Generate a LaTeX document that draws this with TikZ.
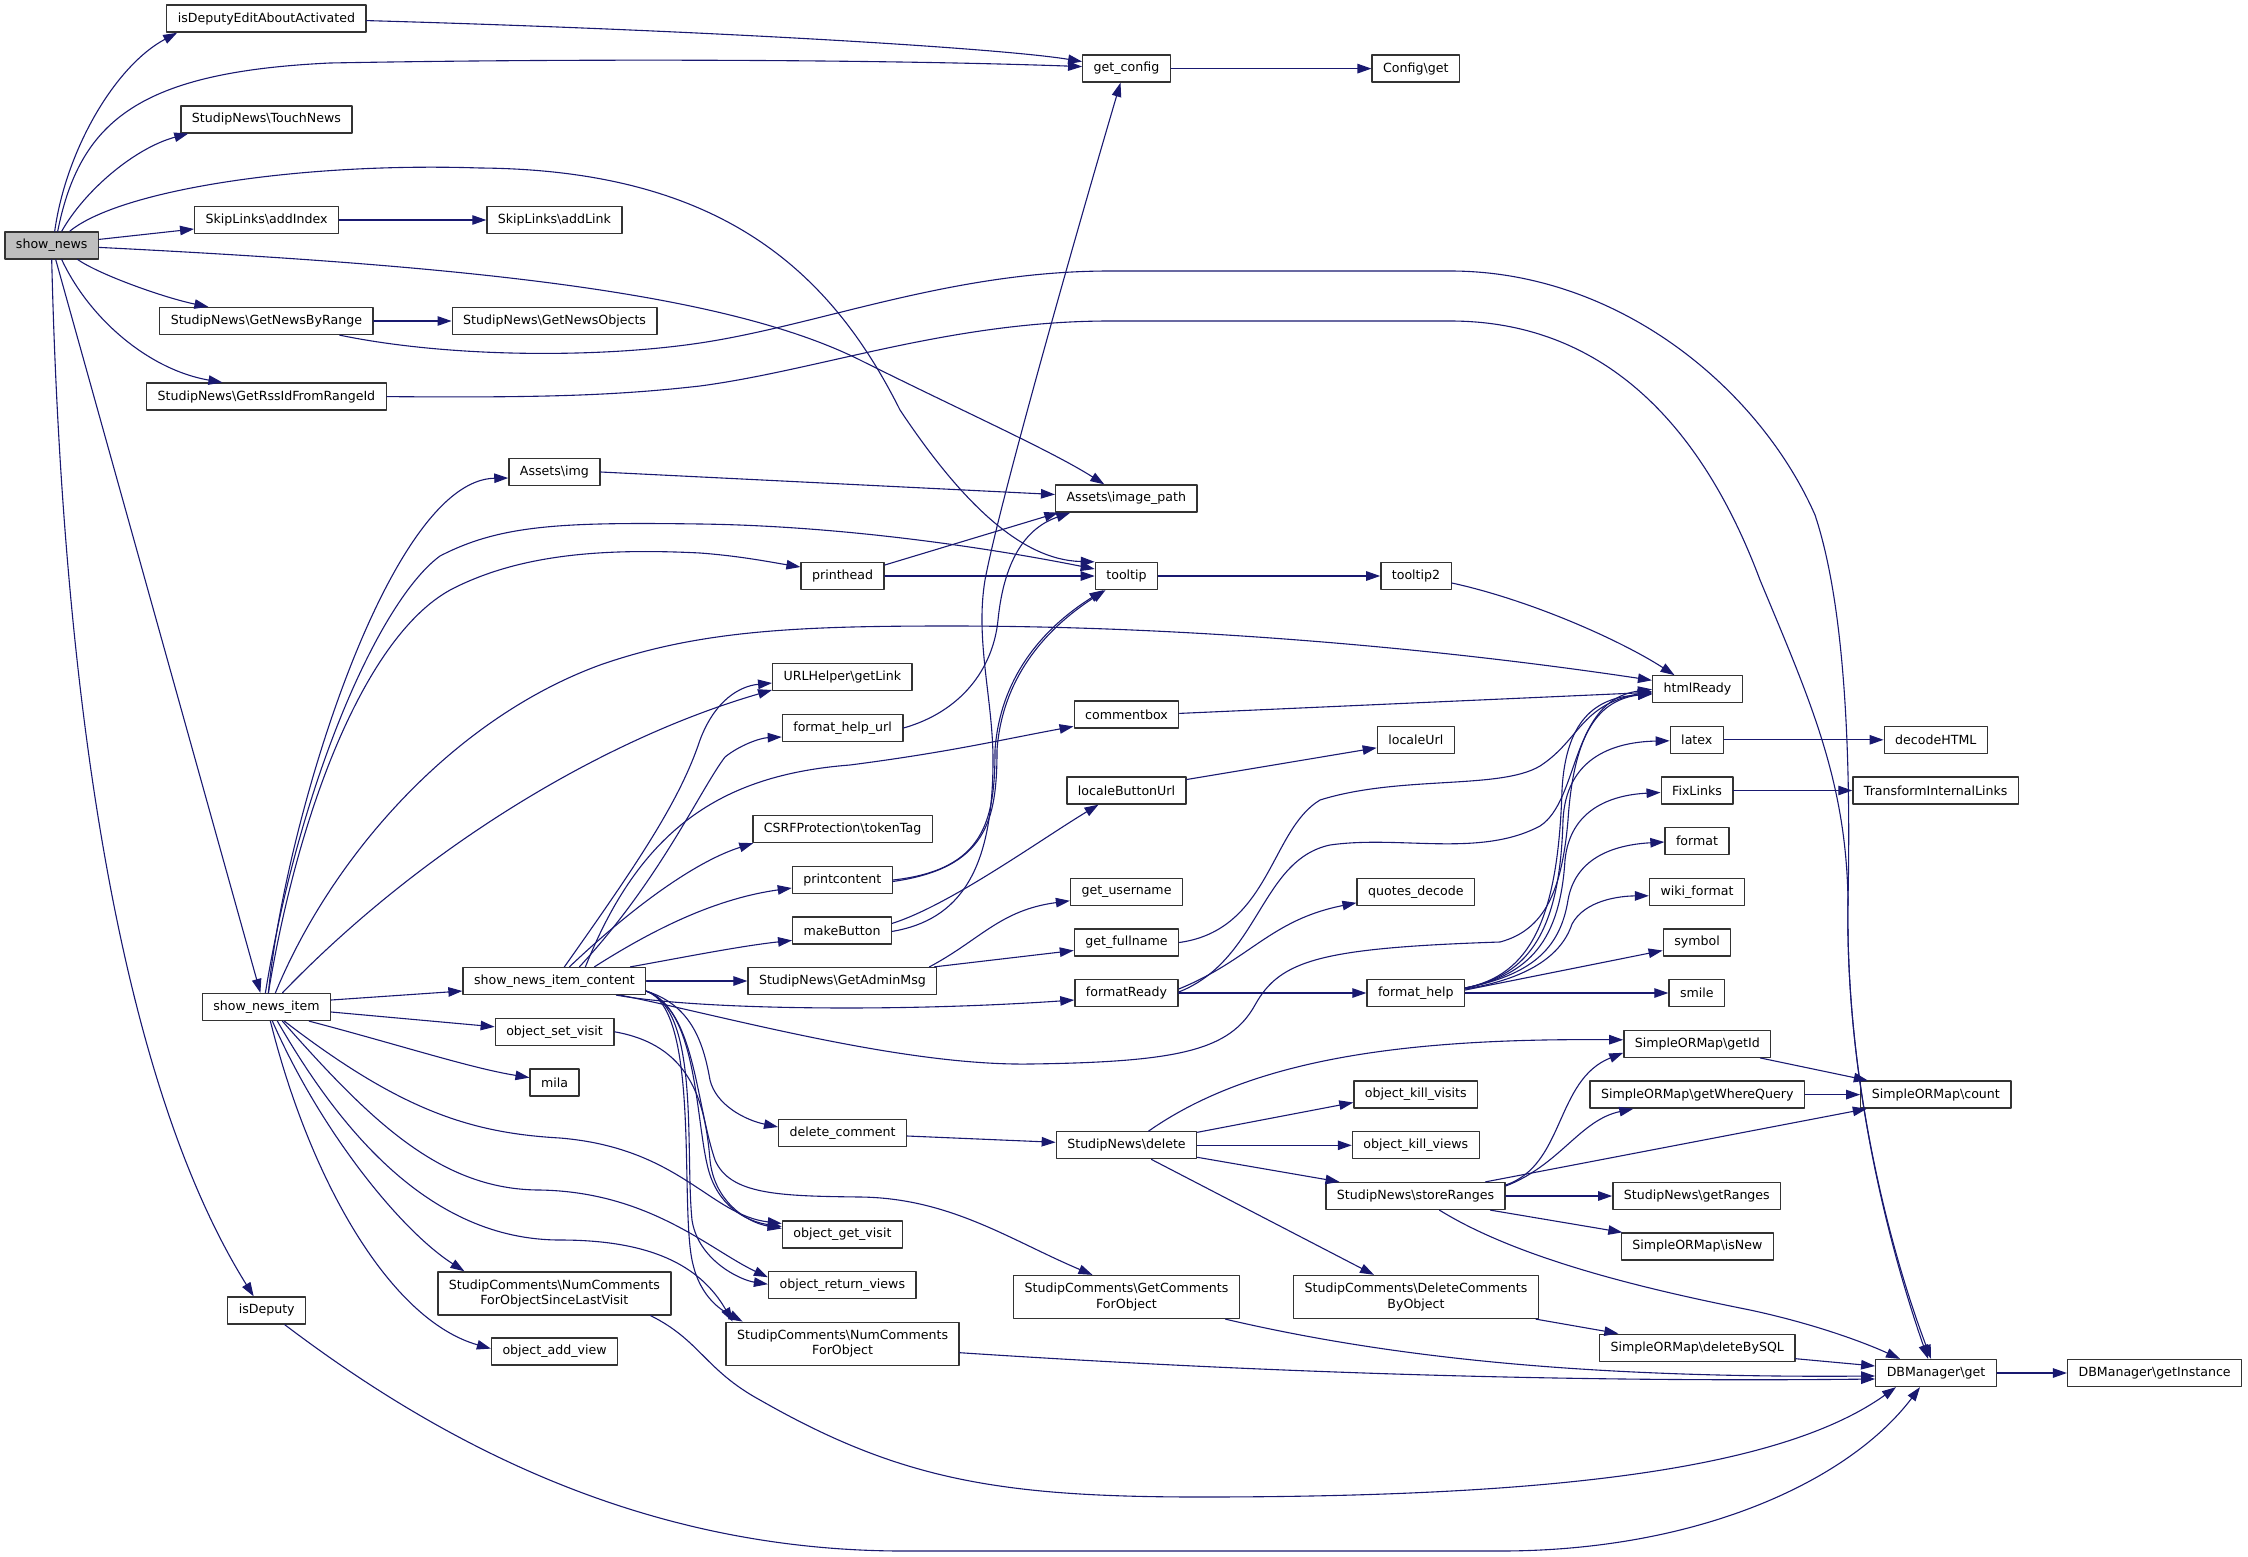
\documentclass[tikz,border=0pt]{standalone}
\usepackage{fontspec}
\setmainfont{DejaVu Sans}
\usetikzlibrary{arrows.meta}
\definecolor{callblue}{HTML}{191970}
\definecolor{rootgray}{HTML}{BFBFBF}
\newcommand{\bs}{\textbackslash}

\begin{document}
\begin{tikzpicture}[x=1pt, y=-1pt, line cap=round, line join=round,
  >={Triangle[length=14pt,width=9.5pt]},
  fn/.style={draw=black!80, line width=1.3pt, fill=white, inner xsep=11pt, inner ysep=0pt,
    minimum height=27pt, align=center, font=\fontsize{12.6}{15.6}\selectfont},
  fntwo/.style={fn, minimum height=43pt},
  call/.style={->, draw=callblue, line width=1.1pt}]
  \useasboundingbox (0,0) rectangle (2248,1557);

  \node[fn, fill=rootgray] (shownews) at (51.7,245.4) {show\_news};
  \node[fn] (isdeputyedit) at (266.4,18.6) {isDeputyEditAboutActivated};
  \node[fn] (touchnews) at (266.4,119.4) {StudipNews\bs TouchNews};
  \node[fn] (addindex) at (266.6,220) {SkipLinks\bs addIndex};
  \node[fn] (addlink) at (554.4,220) {SkipLinks\bs addLink};
  \node[fn] (newsbyrange) at (266.4,321) {StudipNews\bs GetNewsByRange};
  \node[fn] (newsobjects) at (554.6,321) {StudipNews\bs GetNewsObjects};
  \node[fn] (rssid) at (266.4,396.6) {StudipNews\bs GetRssIdFromRangeId};
  \node[fn] (assetsimg) at (554.4,472) {Assets\bs img};
  \node[fn] (getconfig) at (1126.5,68.6) {get\_config};
  \node[fn] (configget) at (1415.8,68.6) {Config\bs get};
  \node[fn] (imagepath) at (1126.3,498.5) {Assets\bs image\_path};
  \node[fn] (printhead) at (842.6,576) {printhead};
  \node[fn] (tooltip) at (1126.5,576) {tooltip};
  \node[fn] (tooltiptwo) at (1416,576) {tooltip2};
  \node[fn] (getlink) at (842.4,677) {URLHelper\bs getLink};
  \node[fn] (helpurl) at (842.6,728) {format\_help\_url};
  \node[fn] (commentbox) at (1126.5,714.4) {commentbox};
  \node[fn] (localeurl) at (1415.8,739.8) {localeUrl};
  \node[fn] (buttonurl) at (1126.5,790.5) {localeButtonUrl};
  \node[fn] (tokentag) at (842.6,829) {CSRFProtection\bs tokenTag};
  \node[fn] (printcontent) at (842.3,880) {printcontent};
  \node[fn] (username) at (1126.5,891.8) {get\_username};
  \node[fn] (quotes) at (1415.8,891.8) {quotes\_decode};
  \node[fn] (makebutton) at (842.1,930.4) {makeButton};
  \node[fn] (fullname) at (1126.5,942.5) {get\_fullname};
  \node[fn] (adminmsg) at (842.4,981) {StudipNews\bs GetAdminMsg};
  \node[fn] (formatready) at (1126.5,993) {formatReady};
  \node[fn] (formathelp) at (1415.8,993) {format\_help};
  \node[fn] (htmlready) at (1697.5,689.3) {htmlReady};
  \node[fn] (latex) at (1696.8,739.8) {latex};
  \node[fn] (decodehtml) at (1935.8,739.8) {decodeHTML};
  \node[fn] (fixlinks) at (1697,790.5) {FixLinks};
  \node[fn] (transform) at (1935.7,790.5) {TransformInternalLinks};
  \node[fn] (format) at (1697,841) {format};
  \node[fn] (wikiformat) at (1697,891.8) {wiki\_format};
  \node[fn] (symbol) at (1697,942.5) {symbol};
  \node[fn] (smile) at (1696.8,993) {smile};
  \node[fn] (newsitem) at (266.4,1007) {show\_news\_item};
  \node[fn] (itemcontent) at (554.4,981) {show\_news\_item\_content};
  \node[fn] (setvisit) at (554.6,1031.8) {object\_set\_visit};
  \node[fn] (mila) at (554.6,1082.6) {mila};
  \node[fntwo] (sincelast) at (554.4,1293.4) {StudipComments\bs NumComments\\ForObjectSinceLastVisit};
  \node[fn] (isdeputy) at (266.7,1310.5) {isDeputy};
  \node[fn] (addview) at (554.6,1351.6) {object\_add\_view};
  \node[fn] (deletecomment) at (842.6,1133) {delete\_comment};
  \node[fn] (newsdelete) at (1126.5,1145.3) {StudipNews\bs delete};
  \node[fn] (killvisits) at (1415.8,1094.5) {object\_kill\_visits};
  \node[fn] (killviews) at (1415.8,1145.3) {object\_kill\_views};
  \node[fn] (storeranges) at (1415.5,1196) {StudipNews\bs storeRanges};
  \node[fn] (getvisit) at (842.4,1234.5) {object\_get\_visit};
  \node[fn] (returnviews) at (842.3,1285.2) {object\_return\_views};
  \node[fntwo] (getcomments) at (1126.5,1297) {StudipComments\bs GetComments\\ForObject};
  \node[fntwo] (deletecomments) at (1416,1297) {StudipComments\bs DeleteComments\\ByObject};
  \node[fntwo] (numcomments) at (842.6,1343.7) {StudipComments\bs NumComments\\ForObject};
  \node[fn] (getid) at (1697.3,1043.8) {SimpleORMap\bs getId};
  \node[fn] (wherequery) at (1697.3,1094.6) {SimpleORMap\bs getWhereQuery};
  \node[fn] (count) at (1935.8,1094.6) {SimpleORMap\bs count};
  \node[fn] (getranges) at (1696.8,1196) {StudipNews\bs getRanges};
  \node[fn] (isnew) at (1697.3,1246.5) {SimpleORMap\bs isNew};
  \node[fn] (deletebysql) at (1697.3,1347.7) {SimpleORMap\bs deleteBySQL};
  \node[fn] (dbget) at (1936,1373) {DBManager\bs get};
  \node[fn] (getinstance) at (2154.6,1373) {DBManager\bs getInstance};

  \draw[call] ([xshift=3pt]shownews.north) .. controls (66,150) and (115,66) .. ([xshift=11pt]isdeputyedit.south west);
  \draw[call] ([xshift=6pt]shownews.north) .. controls (80,120) and (140,72) .. (330,63) .. controls (600,58) and (900,60) .. ([yshift=2pt]getconfig.west);
  \draw[call] ([xshift=10pt]shownews.north) .. controls (85,190) and (135,148) .. ([xshift=8pt]touchnews.south west);
  \draw[call] ([xshift=18pt]shownews.north) .. controls (120,190) and (300,162) .. (480,168) .. controls (720,170) and (830,270) .. (900,410) .. controls (960,500) and (1020,560) .. (tooltip.north west);
  \draw[call] ([yshift=6pt]shownews.east) -- ([yshift=-9pt]addindex.west);
  \draw[call] ([yshift=-2pt]shownews.east) .. controls (450,265) and (720,290) .. (860,360) .. controls (960,410) and (1050,450) .. ([xshift=-22pt]imagepath.north);
  \draw[call] ([xshift=26pt]shownews.south) .. controls (100,275) and (165,298) .. ([xshift=-58pt]newsbyrange.north);
  \draw[call] ([xshift=10pt]shownews.south) .. controls (90,320) and (150,370) .. ([xshift=-44pt]rssid.north);
  \draw[call] ([xshift=4pt]shownews.south) -- ([xshift=-6pt]newsitem.north);
  \draw[call] (shownews.south) .. controls (60,600) and (100,1050) .. ([xshift=-13pt]isdeputy.north);
  \draw[call] ([yshift=-2pt]isdeputyedit.east) .. controls (700,30) and (1000,48) .. ([yshift=7pt]getconfig.west);
  \draw[call] (addindex) -- (addlink);
  \draw[call] (newsbyrange) -- (newsobjects);
  \draw[call] ([xshift=-34pt]newsbyrange.south east) .. controls (450,358) and (600,358) .. (700,343) .. controls (820,325) and (950,271) .. (1110,271) -- (1450,271) .. controls (1620,271) and (1760,390) .. (1815,515) .. controls (1850,620) and (1850,800) .. (1848,900) .. controls (1845,1080) and (1890,1250) .. ([xshift=-8pt]dbget.north);
  \draw[call] (rssid.east) .. controls (550,398) and (620,395) .. (700,386) .. controls (820,370) and (950,321) .. (1110,321) -- (1450,321) .. controls (1600,321) and (1700,420) .. (1760,580) .. controls (1810,700) and (1846,780) .. (1848,900) .. controls (1845,1080) and (1890,1250) .. ([xshift=-5pt]dbget.north);
  \draw[call] (getconfig) -- (configget);
  \draw[call] (assetsimg.east) -- ([yshift=4pt]imagepath.west);

  \draw[call] ([xshift=2pt]newsitem.north) .. controls (285,820) and (390,480) .. ([yshift=-6pt]assetsimg.west);
  \draw[call] ([xshift=-1pt]newsitem.north) .. controls (300,780) and (380,600) .. (440,556) .. controls (500,525) and (560,522) .. (700,524) .. controls (850,526) and (1000,550) .. ([yshift=7pt]tooltip.west);
  \draw[call] ([xshift=2pt]newsitem.north) .. controls (300,800) and (370,630) .. (454,588) .. controls (520,555) and (600,548) .. (700,553) .. controls (740,556) and (770,562) .. ([yshift=9pt]printhead.west);
  \draw[call] ([xshift=9pt]newsitem.north) .. controls (330,860) and (450,720) .. (600,665) .. controls (700,630) and (800,626) .. (950,626) .. controls (1200,626) and (1450,650) .. ([yshift=9pt]htmlready.west);
  \draw[call] ([xshift=16pt]newsitem.north) .. controls (420,850) and (600,740) .. ([yshift=-13pt]getlink.west);
  \draw[call] ([yshift=7pt]newsitem.east) -- ([yshift=-10pt]itemcontent.west);
  \draw[call] ([yshift=-5pt]newsitem.east) -- ([yshift=5pt]setvisit.west);
  \draw[call] ([xshift=-22pt]newsitem.south east) .. controls (400,1045) and (470,1068) .. ([yshift=5pt]mila.west);
  \draw[call] ([xshift=18pt]newsitem.south) .. controls (400,1110) and (470,1133) .. (560,1138) .. controls (680,1148) and (710,1215) .. ([yshift=11pt]getvisit.west);
  \draw[call] ([xshift=16pt]newsitem.south) .. controls (370,1120) and (440,1190) .. (540,1190) .. controls (650,1192) and (710,1250) .. ([yshift=8pt]returnviews.west);
  \draw[call] ([xshift=11pt]newsitem.south) .. controls (340,1130) and (430,1240) .. (560,1240) .. controls (650,1240) and (700,1265) .. ([xshift=-110pt]numcomments.north);
  \draw[call] ([xshift=6pt]newsitem.south) .. controls (320,1130) and (400,1230) .. ([xshift=-90pt]sincelast.north);
  \draw[call] ([xshift=4pt]newsitem.south) .. controls (310,1180) and (390,1320) .. ([yshift=3pt]addview.west);

  \draw[call] (itemcontent) -- (adminmsg);
  \draw[call] ([xshift=10pt]itemcontent.north) .. controls (640,860) and (680,800) .. (700,740) .. controls (715,700) and (740,686) .. ([yshift=-6pt]getlink.west);
  \draw[call] ([xshift=25pt]itemcontent.north) .. controls (660,880) and (700,790) .. (725,757) .. controls (740,745) and (760,738) .. ([yshift=-9pt]helpurl.west);
  \draw[call] ([xshift=31pt]itemcontent.north) .. controls (640,830) and (720,775) .. (850,765) .. controls (950,752) and (1000,740) .. ([yshift=-12pt]commentbox.west);
  \draw[call] ([xshift=15pt]itemcontent.north) .. controls (640,900) and (700,860) .. ([xshift=1pt]tokentag.south west);
  \draw[call] ([xshift=40pt]itemcontent.north) .. controls (660,925) and (720,898) .. ([yshift=-8pt]printcontent.west);
  \draw[call] ([xshift=76pt]itemcontent.north) .. controls (680,958) and (740,946) .. ([yshift=-10pt]makebutton.west);
  \draw[call] ([xshift=62pt]itemcontent.south) .. controls (700,1010) and (900,1012) .. ([yshift=-7pt]formatready.west);
  \draw[call] ([xshift=66pt]itemcontent.south) .. controls (720,1015) and (900,1066) .. (1030,1064) .. controls (1180,1062) and (1230,1050) .. (1255,1005) .. controls (1280,960) and (1320,948) .. (1500,942) .. controls (1545,930) and (1562,890) .. (1568,820) .. controls (1574,730) and (1600,700) .. ([yshift=-4pt]htmlready.west);
  \draw[call] ([yshift=4pt]itemcontent.south east) .. controls (690,1005) and (703,1040) .. (710,1080) .. controls (716,1105) and (745,1120) .. ([yshift=6pt]deletecomment.west);
  \draw[call] ([yshift=4pt]itemcontent.south east) .. controls (695,1010) and (695,1100) .. (715,1160) .. controls (730,1195) and (780,1196) .. (860,1197) .. controls (950,1198) and (1010,1240) .. ([xshift=-34pt]getcomments.north);
  \draw[call] ([yshift=4pt]itemcontent.south east) .. controls (700,1010) and (695,1130) .. (710,1175) .. controls (722,1210) and (750,1222) .. ([yshift=8pt]getvisit.west);
  \draw[call] ([yshift=4pt]itemcontent.south east) .. controls (700,1010) and (685,1150) .. (692,1220) .. controls (698,1260) and (740,1280) .. ([yshift=1pt]returnviews.west);
  \draw[call] ([yshift=4pt]itemcontent.south east) .. controls (700,1010) and (680,1200) .. (692,1260) .. controls (700,1300) and (725,1312) .. ([xshift=-100pt]numcomments.north);
  \draw[call] (setvisit.east) .. controls (690,1045) and (705,1100) .. (710,1160) .. controls (714,1200) and (745,1222) .. ([yshift=6pt]getvisit.west);

  \draw[call] ([xshift=-8pt]adminmsg.north east) .. controls (980,940) and (1000,910) .. ([yshift=-9pt]username.west);
  \draw[call] ([xshift=-3pt]adminmsg.north east) -- ([yshift=-8pt]fullname.west);
  \draw[call] (fullname.east) .. controls (1270,930) and (1270,830) .. (1320,800) .. controls (1400,775) and (1500,790) .. (1540,766) .. controls (1580,740) and (1580,705) .. ([yshift=-2pt]htmlready.west);
  \draw[call] ([yshift=4pt]formatready.east) .. controls (1250,960) and (1270,920) .. ([yshift=-11pt]quotes.west);
  \draw[call] ([yshift=1pt]formatready.east) .. controls (1260,960) and (1260,860) .. (1330,845) .. controls (1400,835) and (1480,858) .. (1540,826) .. controls (1580,800) and (1570,700) .. (htmlready.west);
  \draw[call] (formatready) -- (formathelp);
  \draw[call] ([yshift=1pt]commentbox.east) -- ([yshift=-3pt]htmlready.west);
  \draw[call] ([yshift=11pt]buttonurl.east) -- ([yshift=-8pt]localeurl.west);
  \draw[call] ([yshift=7pt]makebutton.east) .. controls (950,905) and (1040,840) .. ([xshift=-28pt]buttonurl.south);
  \draw[call] ([yshift=-1pt]makebutton.east) .. controls (960,920) and (993,870) .. (993,760) .. controls (993,700) and (975,640) .. (985,580) .. controls (1000,500) and (1080,220) .. ([xshift=-6pt]getconfig.south);
  \draw[call] (printhead) -- (tooltip);
  \draw[call] ([yshift=11pt]printhead.east) -- ([xshift=-68pt]imagepath.south);
  \draw[call] (helpurl.east) .. controls (960,712) and (993,670) .. (998,620) .. controls (1003,570) and (1020,530) .. ([xshift=-56pt]imagepath.south);
  \draw[call] (printcontent.east) .. controls (985,870) and (995,820) .. (995,750) .. controls (1000,680) and (1040,630) .. ([xshift=-23pt]tooltip.south);
  \draw[call] ([yshift=-1.5pt]printcontent.east) .. controls (987,868) and (997,820) .. (997,750) .. controls (1002,681) and (1042,631) .. ([xshift=-21pt]tooltip.south);
  \draw[call] (tooltip) -- (tooltiptwo);
  \draw[call] ([yshift=-7pt]tooltiptwo.east) .. controls (1530,600) and (1620,640) .. ([xshift=-23pt]htmlready.north);

  \draw[call] (formathelp) -- (smile);
  \draw[call] ([yshift=3pt]formathelp.east) -- ([yshift=-8pt]symbol.west);
  \draw[call] ([yshift=4pt]formathelp.east) .. controls (1520,980) and (1560,960) .. (1572,924) .. controls (1585,900) and (1620,896) .. ([yshift=-4pt]wikiformat.west);
  \draw[call] ([yshift=5pt]formathelp.east) .. controls (1530,975) and (1560,950) .. (1568,900) .. controls (1575,860) and (1610,845) .. ([yshift=-1pt]format.west);
  \draw[call] ([yshift=5pt]formathelp.east) .. controls (1530,975) and (1560,940) .. (1565,860) .. controls (1570,810) and (1610,795) .. ([yshift=-2pt]fixlinks.west);
  \draw[call] ([yshift=5pt]formathelp.east) .. controls (1530,975) and (1560,930) .. (1563,820) .. controls (1566,760) and (1610,742) .. ([yshift=-1pt]latex.west);
  \draw[call] ([yshift=5pt]formathelp.east) .. controls (1530,975) and (1558,920) .. (1562,790) .. controls (1566,715) and (1600,697) .. ([yshift=-5pt]htmlready.west);
  \draw[call] (latex) -- (decodehtml);
  \draw[call] (fixlinks) -- (transform);

  \draw[call] ([yshift=-3pt]deletecomment.east) -- ([yshift=3pt]newsdelete.west);
  \draw[call] ([xshift=22pt]newsdelete.north) .. controls (1250,1060) and (1400,1038) .. ([yshift=4pt]getid.west);
  \draw[call] ([yshift=13pt]newsdelete.east) -- ([yshift=-8pt]killvisits.west);
  \draw[call] (newsdelete) -- (killviews);
  \draw[call] ([yshift=-12pt]newsdelete.east) -- ([xshift=-76pt]storeranges.north);
  \draw[call] ([xshift=25pt]newsdelete.south) -- ([xshift=-42pt]deletecomments.north);
  \draw[call] ([yshift=11pt]storeranges.east) .. controls (1565,1165) and (1555,1080) .. ([yshift=-9pt]getid.west);
  \draw[call] ([yshift=10pt]storeranges.east) .. controls (1560,1165) and (1580,1120) .. ([xshift=-64pt]wherequery.south);
  \draw[call] ([xshift=70pt]storeranges.north) -- ([xshift=-69pt]count.south);
  \draw[call] (storeranges) -- (getranges);
  \draw[call] ([xshift=75pt]storeranges.south) -- ([xshift=-75pt]isnew.north);
  \draw[call] ([xshift=24pt]storeranges.south) .. controls (1520,1260) and (1650,1290) .. (1750,1310) .. controls (1820,1325) and (1870,1345) .. ([xshift=-36pt]dbget.north);
  \draw[call] ([xshift=63pt]getid.south) -- ([xshift=-68pt]count.north);
  \draw[call] (wherequery) -- (count);
  \draw[call] ([xshift=120pt]deletecomments.south) -- ([xshift=-79pt]deletebysql.north);
  \draw[call] ([yshift=-11pt]deletebysql.east) -- ([yshift=7pt]dbget.west);
  \draw[call] ([xshift=99pt]getcomments.south) .. controls (1400,1360) and (1600,1378) .. ([yshift=-3pt]dbget.west);
  \draw[call] ([yshift=-9pt]numcomments.east) .. controls (1300,1375) and (1600,1382) .. ([yshift=-6pt]dbget.west);
  \draw[call] ([xshift=96pt]sincelast.south) .. controls (700,1340) and (705,1370) .. (760,1400) .. controls (900,1480) and (1000,1497) .. (1200,1497) .. controls (1550,1497) and (1780,1470) .. ([xshift=-40pt]dbget.south);
  \draw[call] ([xshift=18pt]isdeputy.south) .. controls (450,1450) and (650,1550) .. (900,1551) -- (1500,1551) .. controls (1700,1551) and (1850,1480) .. ([xshift=-16pt]dbget.south);
  \draw[call] (dbget) -- (getinstance);
\end{tikzpicture}
\end{document}
